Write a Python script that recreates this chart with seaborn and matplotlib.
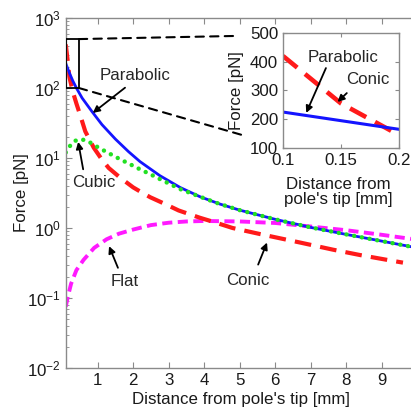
import numpy as np
import pandas as pd
import matplotlib
matplotlib.use('Agg')
import matplotlib.pyplot as plt
import matplotlib.patches as mpatches
import seaborn as sns

# ── Data ────────────────────────────────────────
para_x = [0.1, 0.2, 0.3, 0.4, 0.56, 0.84, 1.12, 1.5, 1.87, 2.19, 2.75, 3.32, 3.88,
          4.44, 5, 6, 7, 8, 9, 10]
para_y = [225, 165, 126, 100, 72, 46, 30, 18.6, 12.3, 8.9, 5.6, 3.8, 2.8,
          2.2, 1.8, 1.33, 1.02, 0.81, 0.65, 0.52]

cubic_x = [0.1, 0.2, 0.35, 0.5, 0.65, 0.8, 1.03, 1.3, 1.63, 1.9, 2.19, 2.5, 2.75,
           3.32, 3.88, 4.44, 5, 6, 7, 8, 9, 10]
cubic_y = [12, 14.5, 17.5, 18.5, 18, 16.5, 14, 11.8, 9.6, 8.2, 6.9, 5.8, 5.0,
           3.6, 2.8, 2.2, 1.8, 1.33, 1.02, 0.81, 0.65, 0.52]

conic_x = [0.1, 0.15, 0.2, 0.3, 0.4, 0.5, 0.65, 0.89, 1.1, 1.31, 1.64, 2.0, 2.25,
           2.48, 2.9, 3.28, 3.88, 4.2, 4.8, 5.57, 6.7, 7.63, 8.4, 9.3, 9.6]
conic_y = [420, 255, 145, 88, 60, 42, 24, 14, 9.8, 7.2, 5.2, 3.8, 3.2,
           2.75, 2.2, 1.78, 1.4, 1.25, 1.0, 0.82, 0.62, 0.49, 0.41, 0.34, 0.32]

flat_x = [0.1, 0.15, 0.25, 0.4, 0.6, 0.9, 1.25, 1.6, 2, 2.5, 3, 3.5, 4, 5, 6, 7, 8, 9, 10]
flat_y = [0.075, 0.1, 0.16, 0.25, 0.35, 0.52, 0.69, 0.83, 0.95, 1.1, 1.19, 1.24, 1.26, 1.24,
          1.18, 1.05, 0.93, 0.8, 0.68]

x_ticks = [1, 2, 3, 4, 5, 6, 7, 8, 9]
inset_xticks = [0.1, 0.15, 0.2]
inset_xlabels = ['0.1', '0.15', '0.2']
inset_yticks = [100, 200, 300, 400, 500]

BLUE = '#1414ff'
RED = '#ff1a1a'
GREEN = '#22e022'
MAGENTA = '#ff1aff'
SPINE = '#8a8a8a'

sns.set_style('ticks')
plt.rcParams['font.family'] = ['Liberation Sans', 'DejaVu Sans']
plt.rcParams.update({
    'font.size': 12.2,
    'axes.edgecolor': SPINE,
    'axes.linewidth': 1.0,
    'xtick.direction': 'in',
    'ytick.direction': 'in',
    'xtick.color': SPINE,
    'ytick.color': SPINE,
    'xtick.labelcolor': '#1a1a1a',
    'ytick.labelcolor': '#1a1a1a',
    'xtick.major.size': 4,
    'ytick.major.size': 4,
    'ytick.minor.size': 2.5,
    'axes.labelcolor': '#1a1a1a',
})


def draw_curves(ax, lw_scale=1.0):
    sns.lineplot(x=flat_x, y=flat_y, ax=ax, color=MAGENTA, lw=2.8 * lw_scale,
                 linestyle=(0, (2.6, 1.4)), estimator=None)
    sns.lineplot(x=conic_x, y=conic_y, ax=ax, color=RED, lw=3.0 * lw_scale,
                 linestyle=(0, (4.0, 2.2)), estimator=None)
    sns.lineplot(x=para_x, y=para_y, ax=ax, color=BLUE, lw=2.0 * lw_scale,
                 estimator=None)
    sns.lineplot(x=cubic_x, y=cubic_y, ax=ax, color=GREEN, lw=3.2 * lw_scale,
                 linestyle=(0, (0.01, 1.75)), dash_capstyle='round', estimator=None)


fig = plt.figure(figsize=(4.11, 4.12), dpi=100)
fig.patch.set_facecolor('white')

# ── Main axes ───────────────────────────────────
ax = fig.add_axes([0.16, 0.1068, 0.855, 0.8495])
draw_curves(ax)
ax.set_yscale('log')
ax.set_xlim(0.1, 10)
ax.set_ylim(1e-2, 1e3)
ax.set_xticks(x_ticks)
ax.tick_params(which='both', top=True, right=True)
ax.tick_params(axis='x', which='minor', bottom=False, top=False)
ax.set_xlabel("Distance from pole's tip [mm]")
ax.set_ylabel('Force [pN]')
ax.xaxis.set_label_coords(0.5, -0.07)
ax.yaxis.set_label_coords(-0.105, 0.5)

# zoom rectangle
ax.add_patch(mpatches.Rectangle((0.1, 100), 0.37, 400, fill=False,
                                edgecolor='black', lw=1.3, zorder=5))

# labels with arrows
arrow = dict(arrowstyle='-|>', color='black', lw=1.3, mutation_scale=10,
             shrinkA=0, shrinkB=0)
ax.text(2.05, 151, 'Parabolic', ha='center', va='center')
ax.annotate('', xy=(0.86, 44), xytext=(1.77, 101), arrowprops=arrow)
ax.text(0.89, 4.4, 'Cubic', ha='center', va='center')
ax.annotate('', xy=(0.45, 17), xytext=(0.59, 6.9), arrowprops=arrow)
ax.text(1.77, 0.17, 'Flat', ha='center', va='center')
ax.annotate('', xy=(1.32, 0.55), xytext=(1.57, 0.27), arrowprops=arrow)
ax.text(5.23, 0.18, 'Conic', ha='center', va='center')
ax.annotate('', xy=(5.77, 0.62), xytext=(5.52, 0.30), arrowprops=arrow)

# ── Inset axes ──────────────────────────────────
ins = fig.add_axes([0.6886, 0.6408, 0.2822, 0.2791])
ins.set_facecolor('white')
draw_curves(ins, lw_scale=1.1)
ins.set_xlim(0.1, 0.2)
ins.set_ylim(100, 500)
ins.set_xticks(inset_xticks)
ins.set_xticklabels(inset_xlabels)
ins.set_yticks(inset_yticks)
ins.tick_params(which='both', top=True, right=True, length=3)
ins.set_xlabel("Distance from\npole's tip [mm]", linespacing=1.0)
ins.set_ylabel('Force [pN]')
ins.xaxis.set_label_coords(0.48, -0.25)
ins.yaxis.set_label_coords(-0.34, 0.5)

ins.text(0.152, 416, 'Parabolic', ha='center', va='center')
ins.annotate('', xy=(0.120, 222), xytext=(0.137, 378), arrowprops=arrow)
ins.text(0.173, 337, 'Conic', ha='center', va='center')
ins.annotate('', xy=(0.147, 260), xytext=(0.155, 291), arrowprops=arrow)

# dashed zoom connectors
for (xa, ya), (xb, yb) in [((0.47, 500), (-0.43, 0.974)), ((0.47, 100), (-0.353, 0.113))]:
    con = mpatches.ConnectionPatch(xyA=(xa, ya), coordsA=ax.transData,
                                   xyB=(xb, yb), coordsB=ins.transAxes,
                                   color='black', lw=1.5, linestyle=(0, (4, 3)))
    fig.add_artist(con)

plt.savefig('out.png', dpi=100)
plt.close()
